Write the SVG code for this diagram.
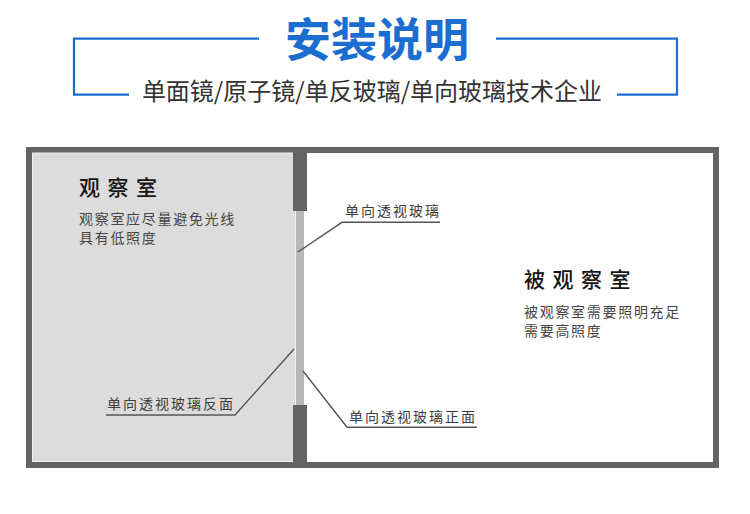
<svg xmlns="http://www.w3.org/2000/svg" width="750" height="514" viewBox="0 0 750 514">
<style>
.cjk{font-family:"Noto Sans CJK SC","Noto Sans",sans-serif}
.blue{stroke:#1b6dd0;stroke-width:2.2;fill:none}
.lead{stroke:#555;stroke-width:1.4;fill:none}
.lbl{font-size:14px;fill:#3c3c3c;letter-spacing:2px}
.room{font-size:21px;fill:#151515;letter-spacing:7.5px;font-weight:500}
.desc{font-size:14px;fill:#444;letter-spacing:1.7px}
.wall{fill:#636363}
</style>
<rect width="750" height="514" fill="#fff"/>
<g id="header">
<polyline class="blue" points="259,38.7 74,38.7 74,94.7 129,94.7"/>
<polyline class="blue" points="496,38.7 677,38.7 677,94.7 617,94.7"/>
<text class="cjk" x="377" y="56" text-anchor="middle" font-size="46" font-weight="bold" fill="#1b6dd0">安装说明</text>
<text class="cjk" x="372" y="100" text-anchor="middle" font-size="24" fill="#333">单面镜/原子镜/单反玻璃/单向玻璃技术企业</text>
</g>
<g id="frame">
<rect x="29" y="150" width="687" height="315" fill="#fff" stroke="#636363" stroke-width="6"/>
<rect x="32" y="153" width="264" height="309" fill="#dcdcdc"/>
<rect x="32.5" y="153" width="263" height="308.5" fill="none" stroke="#f2f2f2" stroke-width="1"/>
</g>
<g id="wall-top"><rect class="wall" x="293" y="150" width="14" height="61"/></g>
<g id="wall-bottom"><rect class="wall" x="293" y="405" width="14" height="60"/></g>
<g id="glass"><rect x="296" y="211" width="8" height="194" fill="#b7b7b7"/></g>
<g id="observation-room">
<text class="cjk room" x="79" y="195">观察室</text>
<text class="cjk desc" x="79" y="224">观察室应尽量避免光线</text>
<text class="cjk desc" x="79" y="243">具有低照度</text>
</g>
<g id="observed-room">
<text class="cjk room" x="524" y="287">被观察室</text>
<text class="cjk desc" x="524" y="317">被观察室需要照明充足</text>
<text class="cjk desc" x="524" y="336">需要高照度</text>
</g>
<g id="connectors">
<polyline class="lead" points="440,222.3 342,222.3 298,252"/>
<polyline class="lead" points="106,415 235,415 294,349"/>
<polyline class="lead" points="477,427.3 347,427.3 303,371"/>
</g>
<g id="label-glass"><text class="cjk lbl" x="345" y="216">单向透视玻璃</text></g>
<g id="label-back"><text class="cjk lbl" x="107" y="409">单向透视玻璃反面</text></g>
<g id="label-front"><text class="cjk lbl" x="349" y="421.5">单向透视玻璃正面</text></g>
</svg>
